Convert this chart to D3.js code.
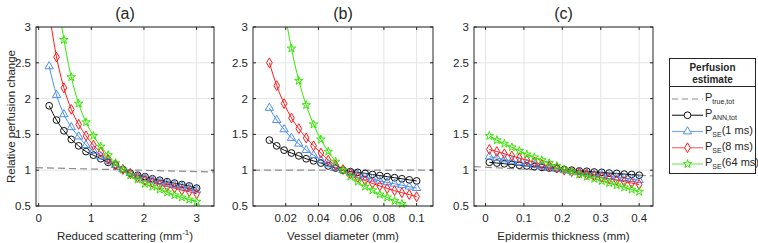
<!DOCTYPE html>
<html>
<head>
<meta charset="utf-8">
<script src="https://cdn.jsdelivr.net/npm/d3@7"></script>
<style>
  body { margin: 0; background: #fff; }
  svg text { font-family: "Liberation Sans", Arial, sans-serif; fill: #262626; }
</style>
</head>
<body>
<div id="chart"></div>
<script>
// ---- data ----
const xA = [0.2, 0.34, 0.48, 0.62, 0.76, 0.9, 1.04, 1.18, 1.32, 1.46, 1.6, 1.74, 1.88, 2.02, 2.16, 2.3, 2.44, 2.58, 2.72, 2.86, 3.0];
const annA = [1.90, 1.70, 1.55, 1.43, 1.34, 1.26, 1.21, 1.16, 1.11, 1.07, 1.01, 0.96, 0.93, 0.91, 0.88, 0.86, 0.84, 0.82, 0.80, 0.78, 0.75];
const se1A = [2.45, 2.05, 1.78, 1.60, 1.47, 1.35, 1.27, 1.19, 1.13, 1.07, 1.01, 0.96, 0.92, 0.89, 0.86, 0.84, 0.81, 0.79, 0.77, 0.75, 0.72];
const se8A = [3.20, 2.58, 2.15, 1.85, 1.64, 1.48, 1.35, 1.25, 1.15, 1.08, 1.01, 0.95, 0.90, 0.86, 0.83, 0.80, 0.77, 0.75, 0.72, 0.70, 0.67];
const se64A = [4.50, 3.54, 2.82, 2.30, 1.93, 1.67, 1.48, 1.33, 1.21, 1.10, 1.01, 0.93, 0.87, 0.81, 0.77, 0.73, 0.69, 0.65, 0.62, 0.59, 0.56];
const trueXA = [-0.05, 3.33];
const trueA = [1.035, 0.975];

const xB = [0.01, 0.0145, 0.019, 0.0235, 0.028, 0.0325, 0.037, 0.0415, 0.046, 0.0505, 0.055, 0.0595, 0.064, 0.0685, 0.073, 0.0775, 0.082, 0.0865, 0.091, 0.0955, 0.1];
const annB = [1.42, 1.34, 1.28, 1.24, 1.20, 1.16, 1.13, 1.10, 1.06, 1.03, 1.00, 0.98, 0.97, 0.955, 0.94, 0.925, 0.91, 0.895, 0.88, 0.865, 0.85];
const se1B = [1.87, 1.70, 1.57, 1.45, 1.37, 1.28, 1.21, 1.14, 1.08, 1.04, 1.00, 0.96, 0.93, 0.90, 0.88, 0.85, 0.83, 0.81, 0.79, 0.77, 0.75];
const se8B = [2.50, 2.18, 1.93, 1.73, 1.58, 1.45, 1.34, 1.24, 1.14, 1.07, 1.01, 0.95, 0.90, 0.855, 0.815, 0.78, 0.745, 0.715, 0.685, 0.66, 0.63];
const se64B = [5.00, 4.03, 3.28, 2.70, 2.25, 1.91, 1.64, 1.43, 1.26, 1.12, 1.00, 0.91, 0.84, 0.77, 0.72, 0.66, 0.62, 0.57, 0.53, 0.49, 0.45];
const trueXB = [0, 0.11];
const trueB = [1.0, 1.0];

const xC = [0.01, 0.0295, 0.049, 0.0685, 0.088, 0.1075, 0.127, 0.1465, 0.166, 0.1855, 0.205, 0.2245, 0.244, 0.2635, 0.283, 0.3025, 0.322, 0.3415, 0.361, 0.3805, 0.4];
const annC = [1.11, 1.10, 1.09, 1.08, 1.07, 1.06, 1.05, 1.04, 1.03, 1.02, 1.01, 1.00, 0.99, 0.985, 0.975, 0.97, 0.96, 0.955, 0.945, 0.94, 0.93];
const se1C = [1.19, 1.17, 1.15, 1.13, 1.11, 1.09, 1.07, 1.05, 1.04, 1.02, 1.00, 0.985, 0.97, 0.955, 0.94, 0.93, 0.915, 0.90, 0.89, 0.875, 0.86];
const se8C = [1.29, 1.26, 1.23, 1.20, 1.17, 1.14, 1.11, 1.08, 1.06, 1.03, 1.00, 0.98, 0.96, 0.94, 0.92, 0.90, 0.88, 0.86, 0.84, 0.82, 0.80];
const se64C = [1.48, 1.42, 1.37, 1.32, 1.27, 1.22, 1.18, 1.14, 1.10, 1.06, 1.01, 0.98, 0.94, 0.91, 0.88, 0.85, 0.82, 0.79, 0.76, 0.73, 0.70];
const trueXC = [-0.03, 0.436];
const trueC = [1.05, 0.92];

const yTicks = [0.5, 1, 1.5, 2, 2.5, 3];
const titles = ["(a)", "(b)", "(c)"];
const xLabels = ["Reduced scattering (mm", "Vessel diameter (mm)", "Epidermis thickness (mm)"];
const xTicksA = [0, 1, 2, 3];
const xTicksB = [0.02, 0.04, 0.06, 0.08, 0.1];
const xTicksC = [0, 0.1, 0.2, 0.3, 0.4];
const legendNames = ["true,tot", "ANN,tot", "SE", "SE", "SE"];
const legendSuffix = ["", "", "(1 ms)", "(8 ms)", "(64 ms)"];

// ---- styling ----
const series = [
  { key: "ann", color: "#111", legendColor: "#333", symbol: d3.symbolCircle, size: 36 },
  { key: "se1", color: "#4d8ff0", legendColor: "#7aaaf2", symbol: d3.symbolTriangle, size: 30 },
  { key: "se8", color: "#ff1a1a", legendColor: "#f07070", symbol: d3.symbolDiamond, size: 28 },
  { key: "se64", color: "#33e600", legendColor: "#7de86a", symbol: d3.symbolStar, size: 22 }
];

const panels = [
  { left: 36, right: 214, dom: [-0.05, 3.33], ticks: xTicksA, x: xA, ys: [annA, se1A, se8A, se64A], tx: trueXA, ty: trueA },
  { left: 253, right: 433, dom: [0, 0.11], ticks: xTicksB, x: xB, ys: [annB, se1B, se8B, se64B], tx: trueXB, ty: trueB },
  { left: 474, right: 653, dom: [-0.03, 0.436], ticks: xTicksC, x: xC, ys: [annC, se1C, se8C, se64C], tx: trueXC, ty: trueC }
];
const plotTop = 27, plotBottom = 206;
const axisColor = "#262626";

const svg = d3.select("#chart").append("svg")
  .attr("width", 758)
  .attr("height", 243);

const y = d3.scaleLinear().domain([0.5, 3]).range([plotBottom, plotTop]);

panels.forEach(function(p, i) {
  const x = d3.scaleLinear().domain(p.dom).range([p.left, p.right]);
  const g = svg.append("g");

  g.append("clipPath").attr("id", "clip" + i)
    .append("rect")
    .attr("x", p.left).attr("y", plotTop)
    .attr("width", p.right - p.left).attr("height", plotBottom - plotTop);

  // grid
  g.selectAll(".gx").data(p.ticks).enter().append("line")
    .attr("x1", d => x(d)).attr("x2", d => x(d))
    .attr("y1", plotTop).attr("y2", plotBottom)
    .attr("stroke", "#e3e6e6").attr("stroke-width", 1);
  g.selectAll(".gy").data(yTicks).enter().append("line")
    .attr("x1", p.left).attr("x2", p.right)
    .attr("y1", d => y(d)).attr("y2", d => y(d))
    .attr("stroke", "#e3e6e6").attr("stroke-width", 1);

  const plot = g.append("g").attr("clip-path", "url(#clip" + i + ")");

  // truth (dashed)
  const truthLine = d3.line().x(d => x(d[0])).y(d => y(d[1]));
  plot.append("path")
    .datum(d3.zip(p.tx, p.ty))
    .attr("d", truthLine)
    .attr("fill", "none")
    .attr("stroke", "#8c8c8c")
    .attr("stroke-width", 1.2)
    .attr("stroke-dasharray", "7,4");

  const line = d3.line().curve(d3.curveMonotoneX).x(d => x(d[0])).y(d => y(d[1]));

  series.forEach(function(s, k) {
    const pts = d3.zip(p.x, p.ys[k]);
    plot.append("path")
      .datum(pts)
      .attr("d", line)
      .attr("fill", "none")
      .attr("stroke", s.color)
      .attr("stroke-width", 1);
    g.selectAll(".m" + k).data(pts.filter(d => d[1] >= 0.5 && d[1] <= 3)).enter().append("path")
      .attr("d", d3.symbol().type(s.symbol).size(s.size))
      .attr("transform", d => "translate(" + x(d[0]) + "," + y(d[1]) + ")")
      .attr("fill", "none")
      .attr("stroke", s.color)
      .attr("stroke-width", 1);
  });

  // box
  g.append("rect")
    .attr("x", p.left).attr("y", plotTop)
    .attr("width", p.right - p.left).attr("height", plotBottom - plotTop)
    .attr("fill", "none").attr("stroke", axisColor).attr("stroke-width", 1);

  // ticks inside on all sides
  p.ticks.forEach(function(t) {
    g.append("line").attr("x1", x(t)).attr("x2", x(t)).attr("y1", plotBottom).attr("y2", plotBottom - 3).attr("stroke", axisColor);
    g.append("line").attr("x1", x(t)).attr("x2", x(t)).attr("y1", plotTop).attr("y2", plotTop + 3).attr("stroke", axisColor);
  });
  yTicks.forEach(function(t) {
    g.append("line").attr("x1", p.left).attr("x2", p.left + 3).attr("y1", y(t)).attr("y2", y(t)).attr("stroke", axisColor);
    g.append("line").attr("x1", p.right).attr("x2", p.right - 3).attr("y1", y(t)).attr("y2", y(t)).attr("stroke", axisColor);
  });

  // tick labels
  g.selectAll(".tx").data(p.ticks).enter().append("text")
    .attr("x", d => x(d)).attr("y", 222)
    .attr("text-anchor", "middle")
    .attr("font-size", "11.5px")
    .text(d => d3.format("~g")(d));
  g.selectAll(".ty").data(yTicks).enter().append("text")
    .attr("x", p.left - 5).attr("y", d => y(d) + 4)
    .attr("text-anchor", "end")
    .attr("font-size", "11.5px")
    .text(d => d3.format("~g")(d));

  // title
  g.append("text")
    .attr("x", (p.left + p.right) / 2).attr("y", 19)
    .attr("text-anchor", "middle")
    .attr("font-size", "16px")
    .text(titles[i]);

  // x label
  const xl = g.append("text")
    .attr("x", (p.left + p.right) / 2).attr("y", 240)
    .attr("text-anchor", "middle")
    .attr("font-size", "11.5px")
    .text(xLabels[i]);
  if (i === 0) {
    xl.append("tspan").attr("font-size", "8px").attr("dy", "-5").text("-1");
    xl.append("tspan").attr("dy", "5").text(")");
  }
});

// y label
svg.append("text")
  .attr("transform", "translate(15," + ((plotTop + plotBottom) / 2) + ") rotate(-90)")
  .attr("text-anchor", "middle")
  .attr("font-size", "11.5px")
  .text("Relative perfusion change");

// legend
const lg = svg.append("g");
lg.append("rect")
  .attr("x", 669.5).attr("y", 58.5).attr("width", 86).attr("height", 115)
  .attr("fill", "#fff").attr("stroke", axisColor).attr("stroke-width", 1);
lg.append("line")
  .attr("x1", 669.5).attr("x2", 755.5).attr("y1", 86.5).attr("y2", 86.5)
  .attr("stroke", axisColor);
lg.append("text").attr("x", 712.5).attr("y", 71).attr("text-anchor", "middle")
  .attr("font-size", "10px").attr("font-weight", "bold").text("Perfusion");
lg.append("text").attr("x", 712.5).attr("y", 83).attr("text-anchor", "middle")
  .attr("font-size", "10px").attr("font-weight", "bold").text("estimate");

const rowY = d3.scaleLinear().domain([0, 4]).range([99, 164]);
legendNames.forEach(function(name, r) {
  const yy = rowY(r);
  const s = r === 0 ? null : series[r - 1];
  lg.append("line")
    .attr("x1", 672).attr("x2", 703).attr("y1", yy).attr("y2", yy)
    .attr("stroke", s ? s.legendColor : "#8c8c8c")
    .attr("stroke-width", 1.2)
    .attr("stroke-dasharray", s ? null : "6,4");
  if (s) {
    lg.append("path")
      .attr("d", d3.symbol().type(s.symbol).size(s.size))
      .attr("transform", "translate(687.5," + yy + ")")
      .attr("fill", "#fff")
      .attr("stroke", s.color);
  }
  const t = lg.append("text").attr("x", 705).attr("y", yy + 2).attr("font-size", "11px");
  t.append("tspan").text("P");
  t.append("tspan").attr("font-size", "7px").attr("dy", 3).text(name);
  if (legendSuffix[r]) t.append("tspan").attr("dy", -3).text(legendSuffix[r]);
});
</script>
</body>
</html>
